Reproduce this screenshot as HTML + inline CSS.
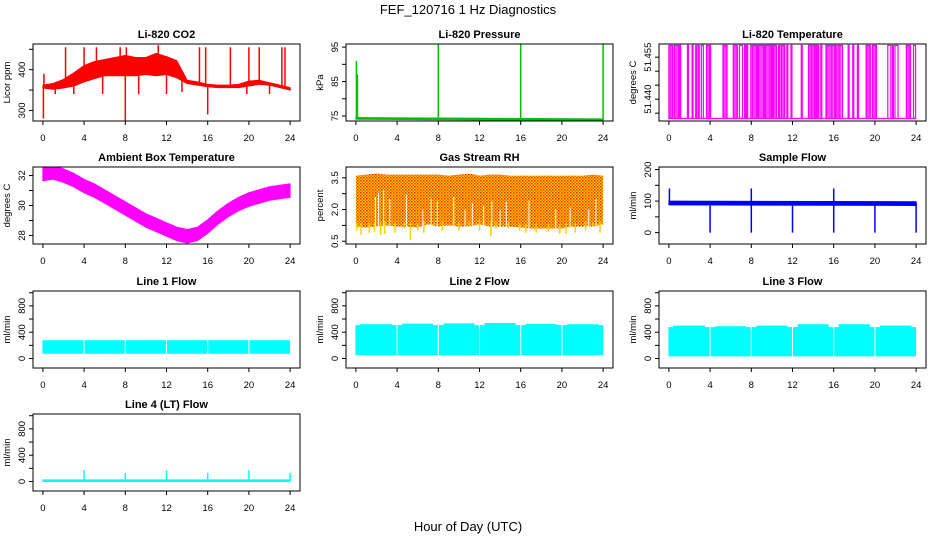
<!DOCTYPE html>
<html><head><meta charset="utf-8">
<style>
html,body{margin:0;padding:0;background:#fff;}
svg{display:block;font-family:"Liberation Sans",Arial,sans-serif;}
</style></head>
<body>
<svg id="chart" width="936" height="540" viewBox="0 0 936 540" xmlns="http://www.w3.org/2000/svg">
<defs>
<pattern id="rhpat" width="3" height="3" patternUnits="userSpaceOnUse">
<rect width="3" height="3" fill="#ffd000"/>
<rect x="0" y="0" width="1.5" height="1.5" fill="#ff2000"/>
<rect x="1.5" y="1.5" width="1.5" height="1.5" fill="#ff6000"/>
</pattern>
</defs>
<text x="468" y="14" text-anchor="middle" font-size="13">FEF_120716  1 Hz Diagnostics</text>
<text x="468" y="531" text-anchor="middle" font-size="13">Hour of Day (UTC)</text>
</svg>
<script>
// ---- data ----
const xTicks=[0,4,8,12,16,20,24];
const hours=[0,1,2,3,4,5,6,7,8,9,10,11,12,13,14,15,16,17,18,19,20,21,22,23,24];
const co2Low=[355,352,355,360,370,378,385,385,385,385,388,385,388,380,366,362,358,356,356,356,360,364,362,356,350];
const co2High=[362,366,376,392,410,420,425,430,435,430,430,440,432,422,374,370,364,362,362,364,372,374,368,362,356];
const co2Spikes=[[0.05,280],[0.1,390],[2.2,455],[4,455],[5.2,455],[7.5,455],[8,275],[8.1,455],[11.2,460],[15.2,455],[15.8,455],[16,290],[18.2,455],[20,455],[21,455],[23.2,455],[23.5,455],[1.2,340],[3,340],[5.8,340],[9.3,340],[12,340],[13.5,345],[19.8,340],[22,340],[24,350]];
const presHours=[0,24];
const presBase=[74.3,73.9];
const presSpikes=[[0.05,91],[0.15,87],[8,96],[16,96],[24,96]];
const tempLow=51.4331, tempHigh=51.4592;
const tempOn=[[0.05,0.3],[0.55,0.95],[1.1,1.1],[1.85,1.85],[2.3,2.3],[2.65,2.65],[2.9,2.9],[3.2,3.3],[3.7,4.0],[5.3,5.6],[6.3,6.6],[6.9,7.1],[7.4,7.4],[7.6,7.6],[8.0,8.5],[8.7,9.2],[9.4,9.9],[10.0,10.0],[10.2,10.4],[10.7,10.7],[10.95,11.2],[11.5,11.5],[11.9,11.9],[12.9,12.9],[13.6,14.1],[14.3,14.3],[14.5,14.5],[14.8,14.8],[15.3,16.0],[16.2,16.2],[16.45,16.8],[17.45,17.45],[17.9,17.9],[18.35,18.35],[19.2,19.5],[19.8,20.1],[21.3,21.5],[21.75,21.75],[22.0,22.2],[23.1,23.4],[23.8,23.9]];
const ambCenter=[32.1,32.2,32.0,31.7,31.3,31.0,30.6,30.2,29.8,29.4,29.0,28.7,28.4,28.1,27.95,28.1,28.6,29.2,29.7,30.1,30.4,30.6,30.8,30.9,31.0];
const rhLow=[1.2,1.15,1.2,1.25,1.2,1.2,1.15,1.3,1.2,1.25,1.2,1.2,1.3,1.2,1.2,1.2,1.15,1.1,1.1,1.1,1.1,1.2,1.2,1.2,1.3];
const rhHigh=[3.6,3.65,3.7,3.65,3.65,3.65,3.65,3.65,3.65,3.6,3.65,3.7,3.6,3.65,3.65,3.6,3.6,3.6,3.6,3.6,3.6,3.6,3.6,3.65,3.6];
const rhDips=[[0.1,1.0],[0.5,0.8],[1.3,0.9],[1.8,0.95],[2.4,0.8],[2.8,0.85],[3.8,0.9],[4.7,1.1],[5.3,0.55],[6.0,1.0],[6.6,0.9],[7.6,1.3],[8.4,1.0],[9.4,1.4],[10.0,1.0],[11.0,1.2],[12.0,1.0],[13.1,0.75],[13.6,1.1],[14.8,1.1],[15.9,1.0],[16.5,0.9],[17.5,0.9],[18.7,0.95],[19.8,0.85],[20.4,0.85],[21.3,0.9],[22.3,1.0],[23.0,1.2],[23.7,0.9]];
const rhGaps=[[1.9,2.6],[2.2,2.8],[2.7,2.9],[3.3,2.5],[4.9,2.7],[6.5,2.0],[7.3,2.5],[7.9,2.4],[9.5,2.6],[10.6,2.0],[11.3,2.3],[12.4,2.2],[13.2,2.4],[14.0,2.0],[14.6,2.4],[16.8,2.4],[19.4,2.0],[20.8,2.1],[22.6,2.0],[23.3,2.5]];
const sfBase=[88,100];
const sfSpikes=[[0.05,140],[4,0],[8,0],[8,140],[12,0],[16,0],[16,140],[20,0],[24,0]];
const flowGaps=[[0,3.9],[4.1,7.9],[8.1,11.9],[12.1,15.9],[16.1,19.9],[20.1,23.95]];
const line1Band=[80,270];
const line2Band=[60,500];
const line2Tops=[520,530,535,540,525,520];
const line3Band=[40,470];
const line3Tops=[500,490,500,520,520,500];
const line4Base=[0,25];
const line4Spikes=[[4,170],[8,130],[12,170],[16,130],[20,170],[24,130]];

// ---- layout ----
const NS="http://www.w3.org/2000/svg";
const svg=document.getElementById('chart');
const COLS=[33,346,659], ROWS=[44,167,291,414], W=267, H=77;
const XD=[-0.96,24.96];
function el(tag,attrs,parent){const e=document.createElementNS(NS,tag);for(const k in attrs)e.setAttribute(k,attrs[k]);(parent||svg).appendChild(e);return e;}

function panel(col,row,title,ylab,dom,ticks,labels,name){
  const L=COLS[col],T=ROWS[row];
  const g=el('g',{});
  
  
  const x=h=>L+(h-XD[0])/(XD[1]-XD[0])*W;
  const y=v=>T+(dom[1]-v)/(dom[1]-dom[0])*H;
  const clip=el('clipPath',{id:'c'+name},g);
  el('rect',{x:L,y:T,width:W,height:H},clip);
  const plot=el('g',{'clip-path':'url(#c'+name+')'},g);
  
  
  const box=el('rect',{x:L,y:T,width:W,height:H,fill:'none',stroke:'#000','stroke-width':1},g);
  
  
  const t=el('text',{x:L+W/2,y:T-6,'text-anchor':'middle','font-size':11,'font-weight':'bold'},g);
  t.textContent=title;
  
  
  const yl=el('text',{x:0,y:0,'text-anchor':'middle','font-size':9.5,transform:`translate(${L-23},${T+H/2}) rotate(-90)`},g);
  yl.textContent=ylab;
  
  
  const xa=el('g',{},g);
  
  
  el('line',{x1:x(xTicks[0]),x2:x(xTicks[xTicks.length-1]),y1:T+H,y2:T+H,stroke:'#000'},xa);
  xTicks.forEach(v=>{
    el('line',{x1:x(v),x2:x(v),y1:T+H,y2:T+H+4,stroke:'#000'},xa);
    const tl=el('text',{x:x(v),y:T+H+20,'text-anchor':'middle','font-size':9.5},xa);
    tl.textContent=v;
    
    
  });
  const ya=el('g',{},g);
  
  
  el('line',{x1:L,x2:L,y1:y(ticks[0]),y2:y(ticks[ticks.length-1]),stroke:'#000'},ya);
  ticks.forEach((v,i)=>{
    el('line',{x1:L-4,x2:L,y1:y(v),y2:y(v),stroke:'#000'},ya);
    if(labels[i]!==''){
      const tl=el('text',{x:0,y:0,'text-anchor':'middle','font-size':9.5,transform:`translate(${L-8},${y(v)}) rotate(-90)`},ya);
      tl.textContent=labels[i];
      
      
    }
  });
  return {x,y,plot};
}
function band(p,xsArr,lo,hi,fill,name){
  let pts=xsArr.map((h,i)=>p.x(h)+','+p.y(hi[i]));
  for(let i=xsArr.length-1;i>=0;i--)pts.push(p.x(xsArr[i])+','+p.y(lo[i]));
  const e=el('polygon',{points:pts.join(' '),fill:fill,stroke:fill==='url(#rhpat)'?'none':fill,'stroke-width':1},p.plot);
  
  
  return e;
}
function vline(p,h,v0,v1,color,w,name){
  const e=el('line',{x1:p.x(h),x2:p.x(h),y1:p.y(v0),y2:p.y(v1),stroke:color,'stroke-width':w||1.2},p.plot);
  
  
}
function interp(arr,h){const i=Math.min(Math.floor(h),23);const f=h-i;return arr[i]+(arr[i+1]-arr[i])*f;}

// 1 CO2
let p=panel(0,0,'Li-820 CO2','Licor ppm',[274,463],[300,350,400,450],['300','','400',''],'co2');
band(p,hours,co2Low,co2High,'#ff0000','co2-band');
co2Spikes.forEach(s=>vline(p,s[0],(interp(co2Low,s[0])+interp(co2High,s[0]))/2,s[1],'#ff0000',1.5,'co2-spike'));

// 2 Pressure
p=panel(1,0,'Li-820 Pressure','kPa',[73.55,95.9],[75,80,85,90,95],['75','','85','','95'],'pressure');
band(p,presHours,presBase.map(v=>v-0.25),presBase.map(v=>v+0.25),'#00c000','pressure-band');
presSpikes.forEach(s=>vline(p,s[0],74,s[1],'#00c000',1.5,'pressure-spike'));

// 3 Li-820 Temperature
p=panel(2,0,'Li-820 Temperature','degrees C',[51.4322,51.4597],[51.435,51.44,51.445,51.45,51.455],['','51.440','','','51.455'],'li820-temp');
(function(){const e=el('line',{x1:p.x(0),x2:p.x(24),y1:p.y(tempLow),y2:p.y(tempLow),stroke:'#ff00ff','stroke-width':1.2},p.plot);

})();
tempOn.forEach(s=>{
  const x0=p.x(s[0]),x1=p.x(s[1]);
  const r=el('rect',{x:x0-0.5,y:p.y(tempHigh),width:Math.max(1,x1-x0+1),height:p.y(tempLow)-p.y(tempHigh),fill:'none',stroke:'#ff00ff','stroke-width':1.2},p.plot);
  
  
  if(s[1]-s[0]>0.2){for(let h=s[0];h<=s[1];h+=0.12)vline(p,h,tempLow,tempHigh,'#ff00ff',1,'li820-temp-toggle-line');}
});

// 4 Ambient box temperature
p=panel(0,1,'Ambient Box Temperature','degrees C',[27.43,32.57],[28,29,30,31,32],['28','','30','','32'],'ambient-temp');
band(p,hours,ambCenter.map(v=>v-0.45),ambCenter.map(v=>v+0.45),'#ff00ff','ambient-temp-band');

// 5 Gas stream RH
p=panel(1,1,'Gas Stream RH','percent',[0.37,4.01],[0.5,1.25,2.0,2.75,3.5],['0.5','','2.0','','3.5'],'gas-rh');
band(p,hours,rhLow,rhHigh,'url(#rhpat)','gas-rh-band');
rhDips.forEach(s=>vline(p,s[0],interp(rhLow,s[0])+0.2,s[1],'#ffd000',1.5,'gas-rh-dip'));
rhGaps.forEach(s=>vline(p,s[0],interp(rhLow,s[0])-0.05,s[1],'#ffffff',1,'gas-rh-gap'));

// 6 Sample flow
p=panel(2,1,'Sample Flow','ml/min',[-36,208],[0,50,100,150,200],['0','','100','','200'],'sample-flow');
band(p,[0,24],[sfBase[0],sfBase[0]-2],[sfBase[1],sfBase[1]-2],'#0000ff','sample-flow-band');
sfSpikes.forEach(s=>vline(p,s[0],95,s[1],'#0000ff',1.5,'sample-flow-spike'));

// 7-9 Line flows
const flowDom=[-144,1026],flowTicks=[0,200,400,600,800,1000],flowLabels=['0','','400','','800',''];
function flowPanel(col,row,title,name,bandV,tops){
  const q=panel(col,row,title,'ml/min',flowDom,flowTicks,flowLabels,name);
  flowGaps.forEach((s,i)=>{
    band(q,[s[0],s[1]],[bandV[0],bandV[0]],[bandV[1],bandV[1]],'#00ffff',name+'-band');
    if(tops){vline(q,(s[0]+s[1])/2,bandV[1],tops[i],'#00ffff',Math.max(1,q.x(s[1])-q.x(s[0])-8),name+'-peak');}
  });
  return q;
}
flowPanel(0,2,'Line 1 Flow','line1-flow',line1Band,null);
flowPanel(1,2,'Line 2 Flow','line2-flow',line2Band,line2Tops);
flowPanel(2,2,'Line 3 Flow','line3-flow',line3Band,line3Tops);

// 10 Line 4
p=panel(0,3,'Line 4 (LT) Flow','ml/min',flowDom,flowTicks,flowLabels,'line4-flow');
band(p,[0,24],[line4Base[0],line4Base[0]],[line4Base[1],line4Base[1]],'#00ffff','line4-flow-band');
line4Spikes.forEach(s=>vline(p,s[0],10,s[1],'#00ffff',1.5,'line4-flow-spike'));
</script>
</body></html>
